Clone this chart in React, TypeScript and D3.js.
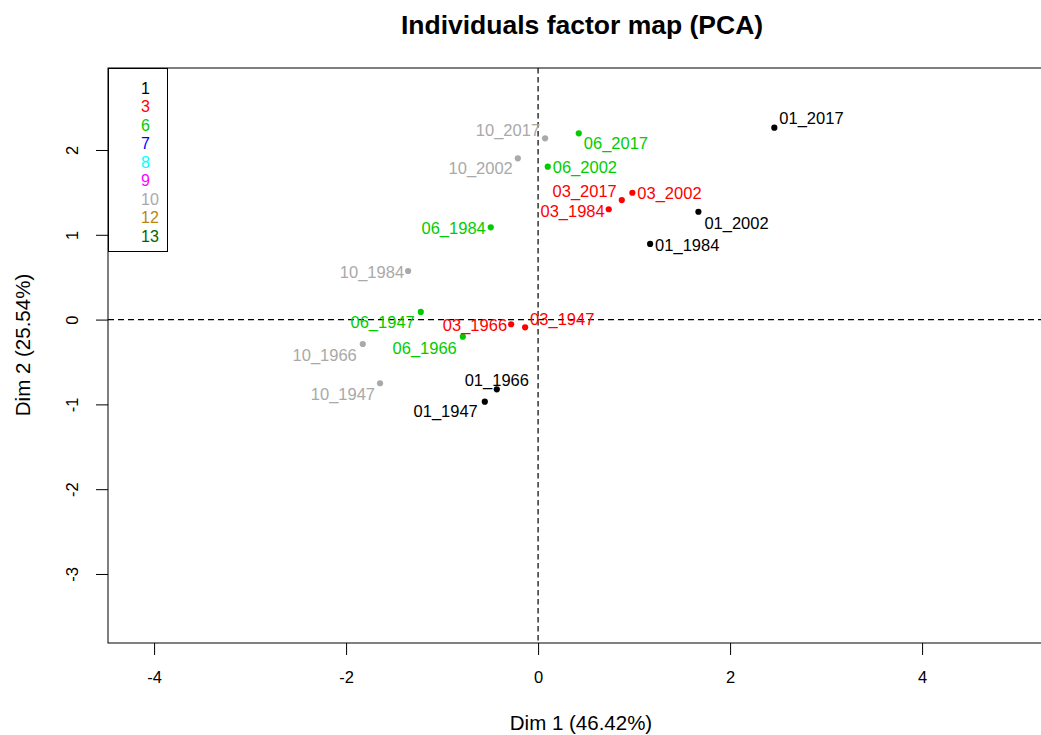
import React, { useEffect, useRef } from "react";
import * as d3 from "d3";

// ---- data ----
const groups = ["1", "3", "6", "7", "8", "9", "10", "12", "13"];
const groupColors = ["#000000", "#FF0000", "#00CD00", "#0000FF", "#00FFFF", "#FF00FF", "#A9A9A9", "#B8860B", "#006400"];

const names = [
  "01_1947", "01_1966", "01_1984", "01_2002", "01_2017",
  "03_1947", "03_1966", "03_1984", "03_2002", "03_2017",
  "06_1947", "06_1966", "06_1984", "06_2002", "06_2017",
  "10_1947", "10_1966", "10_1984", "10_2002", "10_2017",
];
const pointGroup = [
  "1", "1", "1", "1", "1",
  "3", "3", "3", "3", "3",
  "6", "6", "6", "6", "6",
  "10", "10", "10", "10", "10",
];
const dim1 = [
  -0.555, -0.430, 1.167, 1.670, 2.461,
  -0.135, -0.281, 0.736, 0.982, 0.872,
  -1.222, -0.784, -0.493, 0.101, 0.424,
  -1.646, -1.826, -1.354, -0.211, 0.073,
];
const dim2 = [
  -0.968, -0.822, 0.892, 1.272, 2.263,
  -0.091, -0.055, 1.301, 1.496, 1.410,
  0.090, -0.202, 1.088, 1.803, 2.197,
  -0.751, -0.288, 0.573, 1.902, 2.138,
];
const xTicks = [-4, -2, 0, 2, 4];
const yTicks = [-3, -2, -1, 0, 1, 2];

// label placement (anchor, dx, dy in px) — layout only
const labelPlacement: [string, number, number][] = [
  ["end", -7, 10], ["middle", 0, -9], ["start", 5, 1], ["start", 6, 11.5], ["start", 5, -9],
  ["start", 5, -8], ["end", -4, 1], ["end", -4, 1.5], ["start", 5, 0.5], ["end", -5, -9],
  ["end", -6, 10.7], ["end", -6, 11.5], ["end", -5, 1], ["start", 5, 0.5], ["start", 5, 10],
  ["end", -5, 10.7], ["end", -6, 11], ["end", -4, 1], ["end", -5, 10], ["end", -5, -7.6],
];

const W = 1041, H = 735;
const plot = { left: 108, right: 1056, top: 68, bottom: 643 };
const FONT = "'Liberation Sans', Arial, Helvetica, sans-serif";
const fmt = (d: number) => String(d);

export default function App() {
  const ref = useRef<SVGSVGElement>(null);

  useEffect(() => {
    const svg = d3.select(ref.current);
    svg.selectAll("*").remove();

    const x = d3.scaleLinear().domain([-4.48, 5.395]).range([plot.left, plot.right]);
    const y = d3.scaleLinear().domain([-3.814, 2.967]).range([plot.bottom, plot.top]);
    const color = d3.scaleOrdinal<string, string>().domain(groups).range(groupColors);

    svg.append("rect").attr("width", W).attr("height", H).attr("fill", "#fff");

    // title
    svg.append("text")
      .attr("x", 582).attr("y", 25)
      .attr("text-anchor", "middle").attr("dominant-baseline", "central")
      .attr("font-family", FONT).attr("font-weight", "bold").attr("font-size", 26.5)
      .text("Individuals factor map (PCA)");

    // dashed zero lines
    svg.append("line")
      .attr("x1", plot.left).attr("x2", plot.right)
      .attr("y1", y(0)).attr("y2", y(0))
      .attr("stroke", "#000").attr("stroke-width", 1.2).attr("stroke-dasharray", "6,4");
    svg.append("line")
      .attr("x1", x(0)).attr("x2", x(0))
      .attr("y1", plot.top).attr("y2", plot.bottom)
      .attr("stroke", "#000").attr("stroke-width", 1.2).attr("stroke-dasharray", "5.5,3.5");

    // axes
    const gx = svg.append("g").attr("transform", `translate(0,${plot.bottom})`)
      .call(d3.axisBottom(x).tickValues(xTicks).tickSize(12).tickSizeOuter(0).tickFormat(fmt as any));
    gx.select(".domain").remove();
    gx.selectAll("text").attr("y", 34).attr("dy", "0.35em")
      .attr("font-family", FONT).attr("font-size", 16.5).attr("fill", "#000");

    const gy = svg.append("g").attr("transform", `translate(${plot.left},0)`)
      .call(d3.axisLeft(y).tickValues(yTicks).tickSize(12).tickSizeOuter(0).tickFormat(fmt as any));
    gy.select(".domain").remove();
    gy.selectAll("text")
      .attr("x", 0).attr("y", -36).attr("dy", "0.35em")
      .attr("text-anchor", "middle").attr("transform", "rotate(-90)")
      .attr("font-family", FONT).attr("font-size", 16.5).attr("fill", "#000");

    // box
    svg.append("rect")
      .attr("x", plot.left).attr("y", plot.top)
      .attr("width", plot.right - plot.left).attr("height", plot.bottom - plot.top)
      .attr("fill", "none").attr("stroke", "#000");

    // axis titles
    svg.append("text")
      .attr("x", 581).attr("y", 722)
      .attr("text-anchor", "middle").attr("dominant-baseline", "central")
      .attr("font-family", FONT).attr("font-size", 20.5)
      .text("Dim 1 (46.42%)");
    svg.append("text")
      .attr("transform", `translate(22,345) rotate(-90)`)
      .attr("text-anchor", "middle").attr("dominant-baseline", "central")
      .attr("font-family", FONT).attr("font-size", 20.5)
      .text("Dim 2 (25.54%)");

    // points
    const idx = d3.range(names.length);
    svg.append("g").selectAll("circle").data(idx).join("circle")
      .attr("cx", (i) => x(dim1[i])).attr("cy", (i) => y(dim2[i]))
      .attr("r", 3.1).attr("fill", (i) => color(pointGroup[i]));

    svg.append("g").selectAll("text").data(idx).join("text")
      .attr("x", (i) => x(dim1[i]) + labelPlacement[i][1])
      .attr("y", (i) => y(dim2[i]) + labelPlacement[i][2])
      .attr("dy", "0.35em")
      .attr("text-anchor", (i) => labelPlacement[i][0])
      .attr("font-family", FONT).attr("font-size", 16.5)
      .attr("fill", (i) => color(pointGroup[i]))
      .text((i) => names[i]);

    // legend
    const lg = svg.append("g");
    lg.append("rect").attr("x", 108.5).attr("y", 68.5).attr("width", 59).attr("height", 183)
      .attr("fill", "#fff").attr("stroke", "#000");
    lg.selectAll("text").data(groups).join("text")
      .attr("x", 141).attr("y", (_, i) => 88 + i * 18.5).attr("dy", "0.35em")
      .attr("font-family", FONT).attr("font-size", 16)
      .attr("fill", (g) => color(g))
      .text((g) => g);
  }, []);

  return (
    <svg ref={ref} width={W} height={H}
      style={{ position: "absolute", left: 0, top: 0, display: "block" }} />
  );
}
